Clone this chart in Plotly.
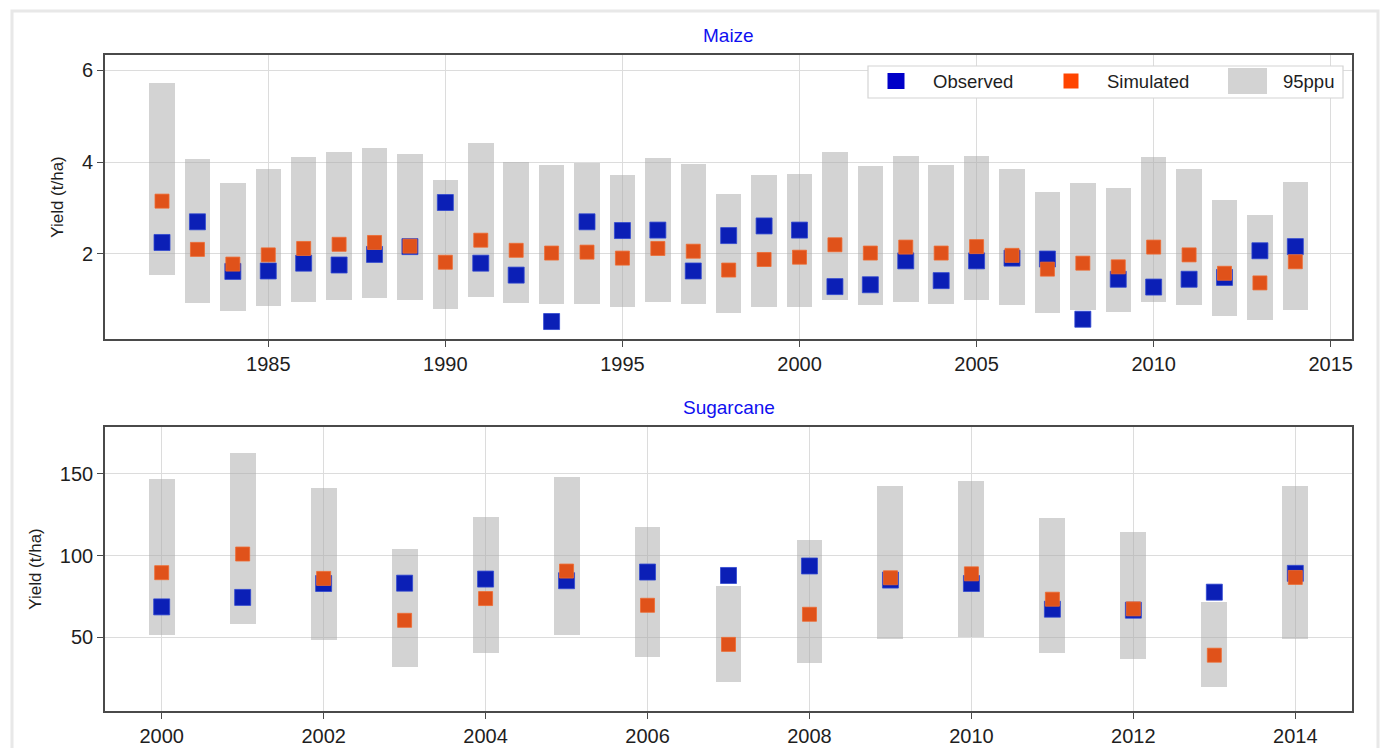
import plotly.graph_objects as go
from plotly.subplots import make_subplots

# ---- Maize (t/ha) ----
maize_years = list(range(1982, 2015))
maize_observed = [2.25, 2.70, 1.62, 1.63, 1.80, 1.76, 1.99, 2.16, 3.12, 1.80,
                  1.54, 0.53, 2.70, 2.51, 2.52, 1.63, 2.40, 2.61, 2.52, 1.29,
                  1.33, 1.85, 1.42, 1.85, 1.91, 1.89, 0.58, 1.45, 1.28, 1.45,
                  1.49, 2.07, 2.16]
maize_simulated = [3.15, 2.10, 1.78, 1.98, 2.12, 2.21, 2.25, 2.17, 1.82, 2.30,
                   2.08, 2.02, 2.04, 1.91, 2.12, 2.06, 1.65, 1.88, 1.93, 2.20,
                   2.02, 2.15, 2.02, 2.16, 1.97, 1.67, 1.80, 1.72, 2.15, 1.98,
                   1.58, 1.37, 1.83]
maize_ppu_low = [1.54, 0.94, 0.76, 0.86, 0.96, 0.99, 1.04, 0.99, 0.80, 1.06,
                 0.93, 0.91, 0.91, 0.84, 0.96, 0.91, 0.71, 0.84, 0.84, 0.99,
                 0.88, 0.96, 0.91, 0.99, 0.88, 0.71, 0.78, 0.73, 0.96, 0.88,
                 0.66, 0.57, 0.78]
maize_ppu_high = [5.73, 4.06, 3.54, 3.84, 4.12, 4.21, 4.31, 4.18, 3.61, 4.41,
                  4.01, 3.93, 3.99, 3.72, 4.09, 3.96, 3.31, 3.71, 3.75, 4.21,
                  3.91, 4.13, 3.93, 4.13, 3.84, 3.35, 3.55, 3.43, 4.10, 3.86,
                  3.17, 2.85, 3.57]

# ---- Sugarcane (t/ha) ----
cane_years = list(range(2000, 2015))
cane_observed = [68.6, 74.4, 82.9, 83.1, 85.6, 84.6, 89.9, 87.8, 93.6, 85.0,
                 82.9, 67.2, 66.6, 77.6, 89.1]
cane_simulated = [89.5, 100.9, 86.0, 60.4, 73.7, 90.5, 69.6, 45.7, 64.1, 86.4,
                  88.8, 73.3, 67.4, 39.1, 86.6]
cane_ppu_low = [51.2, 58.2, 48.2, 31.8, 40.6, 51.2, 37.9, 23.0, 34.2, 49.2,
                50.2, 40.6, 36.9, 19.5, 49.2]
cane_ppu_high = [146.9, 162.7, 141.2, 104.0, 123.6, 147.7, 117.3, 81.3, 109.5,
                 142.2, 145.7, 122.8, 114.4, 71.3, 142.2]

maize_ticks = [1985, 1990, 1995, 2000, 2005, 2010, 2015]
cane_ticks = [2000, 2002, 2004, 2006, 2008, 2010, 2012, 2014]
legend_labels = ["Observed", "Simulated", "95ppu"]

OBS_COLOR = "#0b1fb6"
SIM_COLOR = "#e0521a"
PPU_COLOR = "rgba(168,168,168,0.5)"
FONT = "Liberation Sans, Arial, sans-serif"

W, H = 1385, 748
ML, MR, MT, MB = 105, 33, 55, 37
PW, PH = W - ML - MR, H - MT - MB

fig = make_subplots(rows=2, cols=1, vertical_spacing=0.1342)


def add_panel(row, years, obs, sim, low, high, bar_width):
    fig.add_trace(go.Bar(
        x=years, base=low, y=[h - l for h, l in zip(high, low)],
        width=bar_width, marker=dict(color=PPU_COLOR, line=dict(width=0)),
        name=legend_labels[2], showlegend=False,
    ), row=row, col=1)
    fig.add_trace(go.Scatter(
        x=years, y=obs, mode="markers", name=legend_labels[0],
        marker=dict(symbol="square", size=16, color=OBS_COLOR,
                    line=dict(color="#3048d0", width=0.8)),
        showlegend=False,
    ), row=row, col=1)
    fig.add_trace(go.Scatter(
        x=years, y=sim, mode="markers", name=legend_labels[1],
        marker=dict(symbol="square", size=14, color=SIM_COLOR,
                    line=dict(color="#ef6a30", width=0.8)),
        showlegend=False,
    ), row=row, col=1)


add_panel(1, maize_years, maize_observed, maize_simulated,
          maize_ppu_low, maize_ppu_high, 0.72)
add_panel(2, cane_years, cane_observed, cane_simulated,
          cane_ppu_low, cane_ppu_high, 0.32)

axis_style = dict(
    showline=True, linecolor="#4a4a4a", linewidth=1.6, mirror=True,
    ticks="outside", ticklen=6, tickwidth=1.3, tickcolor="#4a4a4a",
    showgrid=True, gridcolor="#dcdcdc", gridwidth=1, zeroline=False,
    tickfont=dict(size=20, color="#1e1e1e", family=FONT),
)

fig.update_xaxes(**axis_style)
fig.update_yaxes(**axis_style)
fig.update_xaxes(range=[1980.39, 2015.6], tickvals=maize_ticks, row=1, col=1)
fig.update_xaxes(range=[1999.3, 2014.7], tickvals=cane_ticks, row=2, col=1)
fig.update_yaxes(range=[0.15, 6.33], tickvals=[2, 4, 6],
                 title=dict(text="Yield (t/ha)", standoff=14,
                            font=dict(size=17, color="#1e1e1e", family=FONT)),
                 row=1, col=1)
fig.update_yaxes(range=[5, 178.5], tickvals=[50, 100, 150],
                 title=dict(text="Yield (t/ha)", standoff=14,
                            font=dict(size=17, color="#1e1e1e", family=FONT)),
                 row=2, col=1)
fig.update_yaxes(domain=[0.5671, 1.0], row=1, col=1)
fig.update_yaxes(domain=[0.0, 0.4329], row=2, col=1)

# panel titles
for text, ypos in [("Maize", 1.029), ("Sugarcane", 0.4634)]:
    fig.add_annotation(text=text, xref="paper", yref="paper", x=0.5, y=ypos,
                       xanchor="center", yanchor="middle", showarrow=False,
                       font=dict(size=19, color="#1010f0", family=FONT))


def px_x(v):
    return (v - ML) / PW


def px_y(v):
    return (H - MB - v) / PH


# legend box in the maize panel (pixel layout converted to paper units)
fig.add_shape(type="rect", xref="paper", yref="paper",
              x0=px_x(868), x1=px_x(1343), y0=px_y(98), y1=px_y(66),
              line=dict(color="#d4d4d4", width=1.2), fillcolor="white")
legend_swatches = [
    (896, 8.5, 8, "#0000c8"),      # Observed
    (1071, 7.5, 7.5, "#ff4500"),   # Simulated
    (1247.5, 19.5, 13, "#d3d3d3"), # 95ppu
]
for cx, hw, hh, col in legend_swatches:
    fig.add_shape(type="rect", xref="paper", yref="paper",
                  x0=px_x(cx - hw), x1=px_x(cx + hw),
                  y0=px_y(81 + hh), y1=px_y(81 - hh),
                  line=dict(width=0), fillcolor=col)
for label, lx in zip(legend_labels, [931, 1105, 1281]):
    fig.add_annotation(text=label, xref="paper", yref="paper",
                       x=px_x(lx), y=px_y(81), xanchor="left",
                       yanchor="middle", showarrow=False,
                       font=dict(size=18.5, color="#1e1e1e", family=FONT))

# light frame around the whole figure
fig.add_shape(type="rect", xref="paper", yref="paper",
              x0=px_x(12), x1=px_x(1378), y0=px_y(760), y1=px_y(11),
              line=dict(color="#e8e8e8", width=3), fillcolor="rgba(0,0,0,0)")

fig.update_layout(
    width=W, height=H,
    margin=dict(l=ML, r=MR, t=MT, b=MB, autoexpand=False),
    paper_bgcolor="white", plot_bgcolor="white",
    barmode="overlay", bargap=0, showlegend=False,
    font=dict(family=FONT, color="#1e1e1e"),
)

fig.write_html("out.html")
